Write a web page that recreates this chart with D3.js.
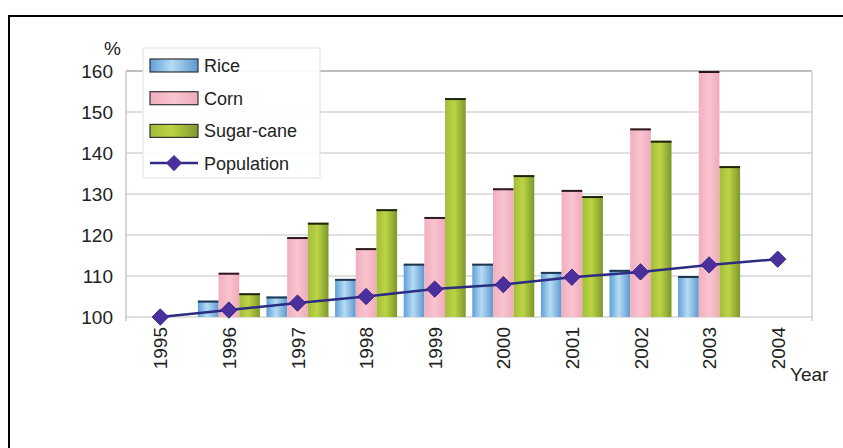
<!DOCTYPE html>
<html><head><meta charset="utf-8">
<script src="https://cdn.jsdelivr.net/npm/d3@7"></script>
<style>
html,body{margin:0;padding:0;background:#fff;}
text{font-family:"Liberation Sans",Arial,sans-serif;fill:#222;}
</style></head>
<body>
<svg id="c" width="843" height="448"></svg>
<script>
const years = ["1995","1996","1997","1998","1999","2000","2001","2002","2003","2004"];
const rice = [100,104,105,109.3,113,113,111,111.5,110,null];
const corn = [100,110.8,119.5,116.8,124.4,131.4,131,146,160,null];
const sugarcane = [100,105.8,123,126.3,153.4,134.6,129.5,143,136.8,null];
const population = [100,101.7,103.4,105,106.8,107.9,109.7,111,112.7,114.1];
const yTicks = [100,110,120,130,140,150,160];
const seriesNames = ["Rice","Corn","Sugar-cane"];
const seriesValues = [rice, corn, sugarcane];

const svg = d3.select("#c");
const defs = svg.append("defs");
function grad(id, stops){
  const g = defs.append("linearGradient").attr("id",id).attr("x1","0%").attr("x2","100%").attr("y1","0%").attr("y2","0%");
  stops.forEach(s=>g.append("stop").attr("offset",s[0]).attr("stop-color",s[1]));
}
grad("gRice",[["0%","#5f9fd6"],["45%","#b6dcf4"],["100%","#5d98cf"]]);
grad("gCorn",[["0%","#f2aebf"],["50%","#f8c4cf"],["100%","#f0aabb"]]);
grad("gSugar",[["0%","#a3bd3a"],["45%","#bcd444"],["100%","#7d972c"]]);
const fills = ["url(#gRice)","url(#gCorn)","url(#gSugar)"];
const caps = ["#1e3550","#2a1a1f","#1d2410"];

// outer frame
svg.append("rect").attr("x",9).attr("y",16).attr("width",900).attr("height",500)
  .attr("fill","none").attr("stroke","#000").attr("stroke-width",2);

const left = 126, right = 812;
const x = d3.scaleBand().domain(years).range([left, right]);
const y = d3.scaleLinear().domain([100,160]).range([317,71]);
const x1 = d3.scaleBand().domain(seriesNames).range([-31,31]);

// gridlines
svg.append("g").selectAll("line").data(yTicks).join("line")
  .attr("x1",left).attr("x2",right).attr("y1",d=>y(d)).attr("y2",d=>y(d))
  .attr("stroke",d=>d===160?"#a8a8a8":"#d6d6d6").attr("stroke-width",1.5);
// plot frame verticals
svg.append("line").attr("x1",left).attr("x2",left).attr("y1",y(160)).attr("y2",y(100)+4).attr("stroke","#c8c8c8").attr("stroke-width",1.5);
svg.append("line").attr("x1",right).attr("x2",right).attr("y1",y(160)).attr("y2",y(100)+4).attr("stroke","#d0d0d0").attr("stroke-width",1.5);

// y axis labels
const yAxis = d3.axisLeft(y).tickValues(yTicks).tickSize(0).tickPadding(13);
const ga = svg.append("g").attr("transform",`translate(${left},0)`).call(yAxis);
ga.select(".domain").remove();
ga.selectAll("text").style("font-size","19px").attr("fill","#333");

svg.append("text").attr("x",104).attr("y",55).style("font-size","19px").attr("fill","#333").text("%");

// bars
seriesNames.forEach((name,si)=>{
  const g = svg.append("g");
  const data = years.map((yr,i)=>({yr, v:seriesValues[si][i]})).filter(d=>d.v!=null && d.v>100);
  g.selectAll("rect").data(data).join("rect")
    .attr("x",d=>x(d.yr)+x.bandwidth()/2+x1(name))
    .attr("width",x1.bandwidth())
    .attr("y",d=>y(d.v))
    .attr("height",d=>y(100)-y(d.v))
    .attr("fill",fills[si]);
  g.selectAll("line").data(data).join("line")
    .attr("x1",d=>x(d.yr)+x.bandwidth()/2+x1(name))
    .attr("x2",d=>x(d.yr)+x.bandwidth()/2+x1(name)+x1.bandwidth())
    .attr("y1",d=>y(d.v)+1).attr("y2",d=>y(d.v)+1)
    .attr("stroke",caps[si]).attr("stroke-width",2);
});

// population line
const line = d3.line().x((d,i)=>x(years[i])+x.bandwidth()/2).y(d=>y(d));
svg.append("path").datum(population).attr("d",line).attr("fill","none")
  .attr("stroke","#2c2c82").attr("stroke-width",2.5);
const diamond = d3.symbol().type(d3.symbolDiamond2).size(170);
svg.append("g").selectAll("path").data(population).join("path")
  .attr("d",diamond)
  .attr("transform",(d,i)=>`translate(${x(years[i])+x.bandwidth()/2},${y(d)})`)
  .attr("fill","#4a309c").attr("stroke","#3a2688").attr("stroke-width",1);

// x labels
svg.append("g").selectAll("text").data(years).join("text")
  .attr("transform",d=>`translate(${x(d)+x.bandwidth()/2+7},327) rotate(-90)`)
  .attr("text-anchor","end").style("font-size","19px").attr("fill","#333").text(d=>d);
svg.append("text").attr("x",790).attr("y",381).style("font-size","19px").attr("fill","#333").text("Year");

// legend
const lg = svg.append("g");
lg.append("rect").attr("x",143).attr("y",48).attr("width",177).attr("height",130)
  .attr("fill","#fff").attr("fill-opacity",0.9).attr("stroke","#e2e2e2");
const legendNames = ["Rice","Corn","Sugar-cane","Population"];
legendNames.forEach((n,i)=>{
  const cy = 65 + i*32.7;
  if(i<3){
    lg.append("rect").attr("x",150).attr("y",cy-6).attr("width",48).attr("height",13)
      .attr("fill",fills[i]).attr("stroke","#333").attr("stroke-width",1.2);
  } else {
    lg.append("line").attr("x1",150).attr("x2",198).attr("y1",cy).attr("y2",cy)
      .attr("stroke","#2c2c82").attr("stroke-width",2.5);
    lg.append("path").attr("d",diamond).attr("transform",`translate(174,${cy})`)
      .attr("fill","#4a309c");
  }
  lg.append("text").attr("x",204).attr("y",cy+7).style("font-size","18px").attr("fill","#333").text(n);
});
</script>
</body></html>
